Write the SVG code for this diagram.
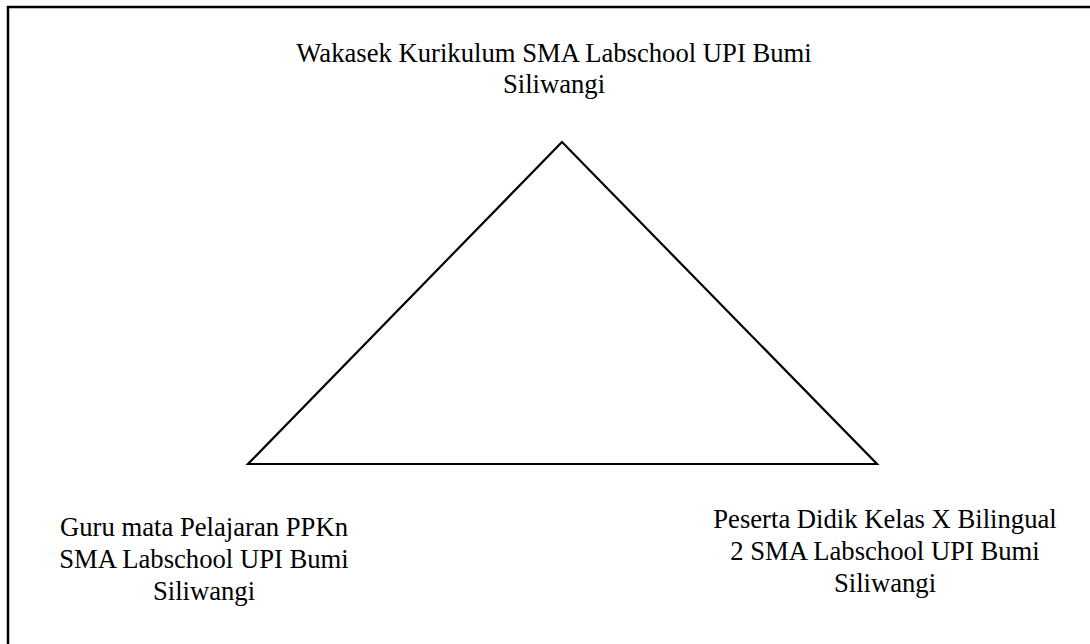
<svg xmlns="http://www.w3.org/2000/svg" width="1090" height="644" viewBox="0 0 1090 644">
<style>
.t{font-family:"Liberation Serif","Times New Roman",serif;font-size:26.67px;fill:#000;text-anchor:middle}
.l{fill:none;stroke:#000;stroke-width:2.2}
</style>
<rect x="0" y="0" width="1090" height="644" fill="#fff"/>
<rect id="frame" x="8" y="7" width="1200" height="800" fill="none" stroke="#000" stroke-width="2.5"/>
<g id="connectors">
<polygon class="l" points="562,142 248,464 877,464"/>
</g>
<g id="top">
<text class="t" x="554" y="62">Wakasek Kurikulum SMA Labschool UPI Bumi</text>
<text class="t" x="554" y="93">Siliwangi</text>
</g>
<g id="left">
<text class="t" x="204" y="536">Guru mata Pelajaran PPKn</text>
<text class="t" x="204" y="568">SMA Labschool UPI Bumi</text>
<text class="t" x="204" y="600">Siliwangi</text>
</g>
<g id="right">
<text class="t" x="885" y="528">Peserta Didik Kelas X Bilingual</text>
<text class="t" x="885" y="560">2 SMA Labschool UPI Bumi</text>
<text class="t" x="885" y="592">Siliwangi</text>
</g>
</svg>
